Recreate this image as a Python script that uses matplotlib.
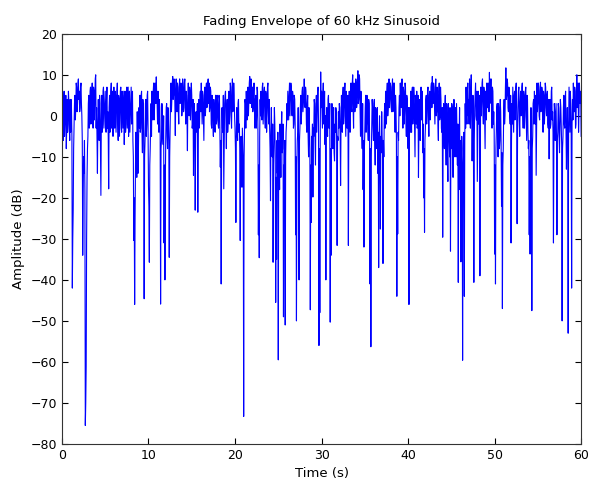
import numpy as np
import matplotlib
matplotlib.use("Agg")
import matplotlib.pyplot as plt

# amplitude in dB, every 0.1 s (one row per second)
amp_db = [
    1, -3, 3, -5, 2, -8, 4, -2, 3, -6,                 # 0 s
    -4, 2, -42, -23, -2, 5, 2, 7, 3, 9,                # 1
    6, 2, 8, 0, -34, -10, -6, -75.5, -61, -15,         # 2
    -5, 5, -2, 7, 1, 8, -3, 6, 3, 10,                  # 3
    2, -14, 4, -6, 3, -19.4, 5, -2, 7, 0,              # 4
    6, -4, 7, 1, -17.8, 5, -2, 8, 3, -5,               # 5
    7, -3, 5, 1, 8, -6, 4, 0, 7, -4,                   # 6
    5, 1, -7, 6, -2, 7, 2, -5, 6, 0,                   # 7
    7, 3, -6, -30.4, -46, -12, -8, 1, -14, 2,          # 8
    5, -3, 6, -9, 2, -44.6, -6, 4, -2, 6,              # 9
    -17, -35.7, -8, 3, 6, -1, 8, 2, 7, 9.5,            # 10
    3, 6, -4, 2, -45.9, -6, 1, -7, -31, -40,           # 11
    -5, 3, -8, 0, -34.5, -3, 8, 4, 9.6, 5,             # 12
    8, -4.8, 9, 1, 7, -2, 9, 4, 6, 2,                  # 13
    7, 2, 9, -2, 5, -8.5, 8, 0, 6, 3,                  # 14
    5, -2, -14.5, 3, -23, 1, -4, -23.5, 4, -2,         # 15
    6, 8, -2, 5, -6, 7, 1, 8, 3, 9,                    # 16
    8, 2, 6, -3, 4, -5, 2, -4, 5, -1,                  # 17
    3, -3, 4, -12.5, -41, 2, -4, -17.8, 3, 6,          # 18
    -8, 4, -2, 6, 1, 7, -3, 9, 2, 5,                   # 19
    -3, -26, 2, -6, 4, -2, -30.4, -5, -17.4, -8,       # 20
    -73.3, -3, 3, 6, -1, 7, 4, 9.6, 5, 8,              # 21
    7, 2, 8, -3, 5, 0, 6, -29, -34.6, 4,               # 22
    6, -1, 8, 2, 7, -3, 5, 0, 8, -2,                   # 23
    -3, -20.7, 2, -10, -35.7, -6, -2, -45.5, -35, -14, # 24
    -59.5, -10, -2, -15, 1, -8, -49, -20, -51, -4,     # 25
    3, 6, -1, 8, 4, 7, 0, 5, -2, 4,                    # 26
    -29, -50, -6, 2, -40, -3, 5, 1, 7, 3,              # 27
    9, 2, 6, -4, 5, -10, -2, -47.3, -26, -7,           # 28
    -19.8, -5, 3, -12, 5, 1, 7, -56, -48, 10.7,        # 29
    6, -3, 8, 1, -7, -40, 2, -5, 5, -2,                # 30
    -50.3, -34, 3, -8, 2, -11, -4, 1, -31.6, -6,       # 31
    -3, 2, -17, 5, -4, 7, 0, 8, -5, 4,                 # 32
    -2, -31.6, 6, -4, 8, 1, 10, -3, 7, 3,              # 33
    8, 3, 11, 4, 9, -5, 2, -8, -18, -32,               # 34
    -4, 5, -2, 4, -6, 3, -41, -56.3, -3, 2,            # 35
    -6, 4, -12, 1, -8, -14, -37, 0, -27.6, -9,         # 36
    -5, -36, -10, 3, 6, -2, 8, 2, 9, 4,                # 37
    7, 1, 9, 3, 8, -4, 2, -44, -28.8, -6,              # 38
    5, 8, 2, 9, -3, 6, 1, 7, -5, 4,                    # 39
    -8, -46, 2, 6, -4, 7, 1, 5, -10, 3,                # 40
    6, -2, -15, 4, -6, 7, 0, -9, -20, -28.4,           # 41
    -3, 5, 1, 7, -5, 6, 2, 8, 9.6, 3,                  # 42
    7, -2, 9, 1, 5, -6, 8, 0, 4, -4,                   # 43
    -29.6, 3, -8, 5, -12, 2, -16, 1, -10, -33,         # 44
    -8, 2, -15, 4, -10, -3, 3, -12, -40.6, -6,         # 45
    -18, -35.6, -5, -59.6, -10, -44, 3, 7, -2, 8,      # 46
    4, 9, -3, 10, -11, 5, -40.6, 2, 8, -1,             # 47
    -16, 6, 1, -39, 7, 3, 9, -2, 6, -8,                # 48
    5, 8, 2, 7, 10.6, 4, 9, -3, 6, 1,                  # 49
    -33.7, -41, -4, 3, -10, 2, -6, 1, -22, -47,        # 50
    -8, 4, 0, 11.7, 5, 8, 1, 6, -2, -31,               # 51
    3, 7, -4, 6, 1, 8, -26.3, 2, 7, -5,                # 52
    6, 1, 8, -3, 5, 0, 7, -6, 4, -8,                   # 53
    -29, -33.7, 2, -47.5, -5, 4, 6, -2, -14.5, 8,      # 54
    3, 7, -1, 8.2, 2, 6, -4, 5, 1, 7,                  # 55
    0, 6, -3, -10.5, 4, -2, 7, 1, -31, 3,              # 56
    -6, 3, -29, -4, 2, -9, 4, -2, -50, -5,             # 57
    5, -3, 6, -13, 2, -53, 7, -4, 3, -42,              # 58
    4, 8, 1, 6, -2, 10, 5, -4, 8, 3,                   # 59
    -5,                                                # 60
]

# in-between samples (0.05 s, 0.15 s, ...) that fill the dense band
amp_db_mid = [
    5, -6, 6, -2, 5, -3, -4, 6, -3, 4,                 # 0 s
    4, -5, -30, -8, 3, -1, 8, 1, 8, 4,                 # 1
    1, 7, 3, -6, -20, -14, -18, -70, -30, -8,          # 2
    3, -3, 6, -2, 6, 0, 7, -1, 9, -3,                  # 3
    -5, -2, -3, 5, -7, -1, -4, 6, -3, 3,               # 4
    -1, 4, -3, -5, 2, -4, 6, -3, 6, 3,                 # 5
    0, 6, -4, 6, -2, 5, -5, 6, -3, 6,                  # 6
    -3, 6, 2, -4, 5, -3, 7, 3, -4, 5,                  # 7
    -2, 6, -10, -20, -25, -4, -15, -9, -5, -3,         # 8
    -4, 5, -4, 4, -5, -10, 3, -5, 5, -3,               # 9
    -22, -12, -2, -5, 1, 6, -1, 8, 3, 5,               # 10
    -2, 0, 4, -5, -8, 3, -5, 0, -12, -15,              # 11
    2, -5, 2, -6, -10, 4, 1, 8, 4, 9,                  # 12
    3, 5, 2, 8, 1, 7, 3, 8, 0, 9,                      # 13
    1, 8, 3, 6, 0, 4, 2, 7, -1, 8,                     # 14
    -3, 4, -3, -4, -5, -3, 3, -6, -3, 5,               # 15
    1, 3, 6, -1, 4, 0, 7, 2, 8, 3,                     # 16
    1, 7, -2, 5, -2, 4, -3, 5, -2, 5,                  # 17
    -2, 5, -3, -6, -8, -3, 5, -6, 5, -1,               # 18
    1, -4, 5, -2, 8, 0, 6, 1, 8, 0,                    # 19
    -8, -5, -4, 3, -4, -8, -7, -10, -3, -12,           # 20
    -10, 4, -3, 1, 5, 0, 8, 3, 9, 2,                   # 21
    1, 6, 1, 4, -3, 7, -4, -12, -5, 0,                 # 22
    1, 7, -2, 6, 0, 6, -4, 7, 1, 4,                    # 23
    -8, -4, -6, -2, -12, 2, -10, -15, -6, -4,          # 24
    -6, -18, -7, -3, -9, -2, -12, -6, -10, -2,         # 25
    -1, 2, 5, 0, 8, 1, 6, -3, 5, -2,                   # 26
    -10, -12, -4, -8, -6, 2, -2, 6, 1, 5,              # 27
    3, 7, -2, 3, -5, 2, -8, -12, -5, -2,               # 28
    -3, 4, -6, 2, -4, 6, -2, -8, -4, 2,                # 29
    1, 5, -2, 6, 0, -5, -4, 4, -3, 3,                  # 30
    -8, -5, -6, 0, -9, -2, 2, -7, -5, 1,               # 31
    3, -5, -2, -1, 5, -2, 6, 1, 6, -3,                 # 32
    5, -3, 0, 6, 2, 8, 2, 8, 1, 9,                     # 33
    2, 9, 3, 10, 1, 6, -4, 3, -6, -8,                  # 34
    2, -4, 5, -3, 4, -5, -8, -10, 4, -3,               # 35
    3, -6, 2, -7, 2, -4, -6, -10, -5, 1,               # 36
    -8, -6, 0, -3, 1, 6, 0, 7, 2, 8,                   # 37
    2, 7, 1, 8, 2, 5, -5, -10, -4, 2,                  # 38
    0, 3, 7, 1, 7, -2, 8, -1, 5, -3,                   # 39
    2, -6, -4, 0, 6, -2, 7, -3, 5, -2,                 # 40
    -3, 5, -4, -2, 5, -1, 6, -2, -8, -6,               # 41
    4, -2, 6, 0, 5, -1, 7, 2, 3, 8,                    # 42
    2, 6, 0, 7, -2, 6, -1, 7, -3, 2,                   # 43
    -6, -5, 2, -6, 3, -9, 3, -6, 2, -5,                # 44
    3, -6, -4, -5, 2, -10, -4, -2, -8, 2,              # 45
    -6, -12, -8, -14, -4, -6, -3, 1, 6, 0,             # 46
    -2, 2, 6, 1, -2, -4, -6, 5, 0, 6,                  # 47
    -4, -2, 5, -6, 0, 8, 1, 7, -2, 6,                  # 48
    -1, 2, 8, 1, 3, 9, 0, 7, -2, -4,                   # 49
    -12, -8, 2, -6, 3, -8, 4, -7, -9, -12,             # 50
    1, -2, 7, 4, 9, 2, 7, 0, 5, -6,                    # 51
    -2, 2, 5, -1, 7, 0, -5, 6, 0, 3,                   # 52
    0, 7, 1, 6, -3, 6, 0, 5, -4, -6,                   # 53
    -10, -5, -6, -8, 3, -2, 0, 5, -3, 1,               # 54
    8, 0, 6, 1, 7, -2, 6, -2, 8, 2,                    # 55
    5, -2, 4, 2, -3, 6, -1, -4, -6, 1,                 # 56
    -1, -5, -6, 3, -5, -2, 2, -7, -8, 2,               # 57
    -2, 4, -3, -4, -5, -3, 1, 6, -5, -2,               # 58
    -1, 2, 7, -3, 5, 2, 8, 1, 4, 6,                    # 59
]

t_main = np.linspace(0, 60, len(amp_db))
t_mid = np.linspace(0.05, 59.95, len(amp_db_mid))
time_s = np.concatenate([t_main, t_mid])
values = np.concatenate([amp_db, amp_db_mid])
order = np.argsort(time_s)
time_s = time_s[order]
values = values[order]

x_ticks = [0, 10, 20, 30, 40, 50, 60]
y_ticks = [-80, -70, -60, -50, -40, -30, -20, -10, 0, 10, 20]

fig = plt.figure(figsize=(5.9, 4.9), dpi=100)
ax = fig.add_axes([0.105, 0.094, 0.88, 0.837])
ax.plot(time_s, values, color="blue", linewidth=0.8)

ax.set_xlim(0, 60)
ax.set_ylim(-80, 20)
ax.set_xticks(x_ticks)
ax.set_yticks(y_ticks)
ax.tick_params(direction="in", top=True, right=True, labelsize=9, length=4)
ax.set_xlabel("Time (s)", fontsize=9.5)
ax.set_ylabel("Amplitude (dB)", fontsize=9.5)
ax.set_title("Fading Envelope of 60 kHz Sinusoid", fontsize=9.5)
for s in ax.spines.values():
    s.set_color("#333333")

fig.savefig("out.png", dpi=100)
